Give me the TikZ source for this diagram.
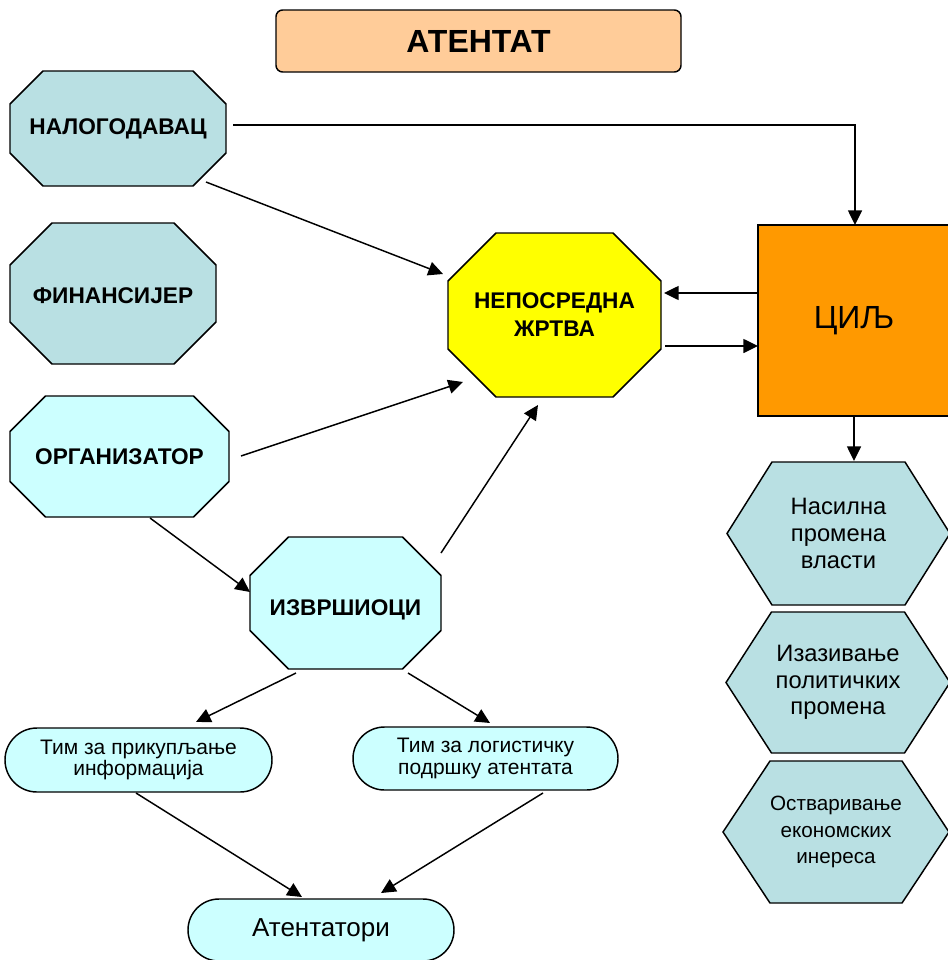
\documentclass[tikz,border=0pt]{standalone}
\usepackage{fontspec}
\setmainfont{Liberation Sans}
\usetikzlibrary{shapes.misc,arrows.meta,calc}
\definecolor{tealfill}{HTML}{B9E0E3}
\definecolor{cyanfill}{HTML}{CCFFFF}
\definecolor{peachfill}{HTML}{FFCC99}
\definecolor{orangefill}{HTML}{FF9900}
\definecolor{yellowfill}{HTML}{FFFF00}
% octagon: name, cx, cy, half width, half height, chamfer, fill, text, text dy
\newcommand\octnode[9]{%
  \filldraw[shapeline, fill=#7, shift={(#2,#3)}] (-#4+#6,-#5) -- (#4-#6,-#5) -- (#4,-#5+#6) -- (#4,#5-#6) -- (#4-#6,#5) -- (-#4+#6,#5) -- (-#4,#5-#6) -- (-#4,-#5+#6) -- cycle;
  \node[boldlab] (#1) at (#2,#3+#9) {#8};}
% hexagon: name, cx, cy, half width, half height, half top edge, font, text
\newcommand\hexnode[8]{%
  \filldraw[shapeline, fill=tealfill, shift={(#2,#3)}] (-#4,0) -- (-#6,-#5) -- (#6,-#5) -- (#4,0) -- (#6,#5) -- (-#6,#5) -- cycle;
  \node[align=center, inner sep=0pt, font=#7] (#1) at (#2,#3) {#8};}
\begin{document}
\begin{tikzpicture}[x=0.75pt,y=-0.75pt,
  shapeline/.style={draw=black, line width=1.1pt},
  boldlab/.style={font=\fontsize{17}{21}\selectfont\bfseries, align=center, inner sep=0pt},
  conn/.style={line width=1.1pt, -{Triangle[length=11pt,width=10.5pt]}},
  stadium/.style={shape=rounded rectangle, shapeline, fill=cyanfill, inner sep=0pt, align=center},
]
\useasboundingbox (0,0) rectangle (947,960);
\fill[white] (0,0) rectangle (947,960);

% title
\node[shapeline, rounded corners=5pt, fill=peachfill, minimum width=405*0.75pt, minimum height=62*0.75pt,
  font=\fontsize{24}{28}\selectfont\bfseries] (title) at (478.5,41) {АТЕНТАТ};

% octagons
\octnode{nal}{118}{128.5}{108}{57.5}{33}{tealfill}{НАЛОГОДАВАЦ}{0}
\octnode{fin}{113}{293.5}{103}{70.5}{42}{tealfill}{ФИНАНСИЈЕР}{2}
\octnode{org}{119.5}{456.5}{109.5}{60.5}{35.5}{cyanfill}{ОРГАНИЗАТОР}{0}
\octnode{izv}{345.5}{603}{95.5}{66}{38.5}{cyanfill}{ИЗВРШИОЦИ}{7}
\octnode{zrt}{554.5}{315}{106.5}{82}{48}{yellowfill}{НЕПОСРЕДНА\\ЖРТВА}{0}

% goal
\node[shapeline, fill=orangefill, minimum width=192*0.75pt, minimum height=191*0.75pt,
  font=\fontsize{24}{28}\selectfont] (cil) at (854,320.5) {ЦИЉ};

% hexagons
\hexnode{hexa}{838.5}{533.5}{111.5}{71.5}{66.5}{{\fontsize{17.8}{20}\selectfont}}{Насилна\\промена\\власти}
\hexnode{hexb}{838}{682.5}{112}{70.5}{66.5}{{\fontsize{17.8}{20}\selectfont}}{Изазивање\\политичких\\промена}
\hexnode{hexc}{836}{832}{113}{71}{66}{{\fontsize{15.5}{20}\selectfont}}{Остваривање\\економских\\инереса}

% teams
\node[stadium, minimum width=267*0.75pt, minimum height=64*0.75pt, font=\fontsize{15.75}{16.3}\selectfont] (tima) at (138.5,760) {Тим за прикупљање\\информација};
\node[stadium, minimum width=265*0.75pt, minimum height=63*0.75pt, font=\fontsize{15.75}{16.3}\selectfont] (timb) at (485.5,758.5) {Тим за логистичку\\подршку атентата};
\node[stadium, minimum width=266*0.75pt, minimum height=62*0.75pt, font=\fontsize{19.5}{22}\selectfont] (aten) at (321,930) {Атентатори};

% connectors
\draw[conn] ($(nal.center)+(115,-3.5)$) -| ($(cil.center)+(1,-95.5)$);
\draw[conn] ($(nal.center)+(88,53.5)$) -- ($(zrt.center)+(-111.5,-41)$);
\draw[conn] ($(org.center)+(121.5,-0.5)$) -- ($(zrt.center)+(-91.5,67)$);
\draw[conn] ($(izv.center)+(95.5,-57)$) -- ($(zrt.center)+(-16.5,90)$);
\draw[conn] ($(cil.center)+(-96,-27.5)$) -- ($(zrt.center)+(109.5,-22)$);
\draw[conn] ($(zrt.center)+(110.5,31)$) -- ($(cil.center)+(-96,25.5)$);
\draw[conn] ($(cil.center)+(0,95.5)$) -- ($(hexa.center)+(15.5,-72.5)$);
\draw[conn] ($(org.center)+(30.5,61.5)$) -- ($(izv.center)+(-95.5,-18)$);
\draw[conn] ($(izv.center)+(-49.5,63)$) -- ($(tima.center)+(57.5,-38)$);
\draw[conn] ($(izv.center)+(62.5,63)$) -- ($(timb.center)+(4.5,-35.5)$);
\draw[conn] ($(tima.center)+(-2.5,33)$) -- ($(aten.center)+(-19,-33)$);
\draw[conn] ($(timb.center)+(57.5,34.5)$) -- ($(aten.center)+(60,-37)$);
\end{tikzpicture}
\end{document}
